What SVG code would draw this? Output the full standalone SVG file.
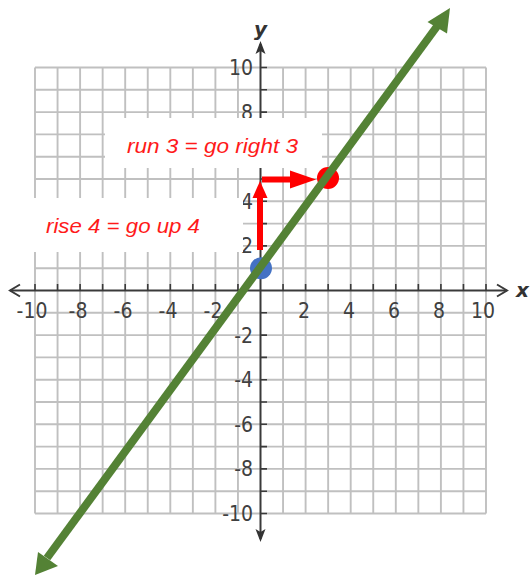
<svg xmlns="http://www.w3.org/2000/svg" width="530" height="578" viewBox="0 0 530 578">
<style>
.grid{stroke:#c0c0c0;stroke-width:1.9;fill:none}
.axis{stroke:#3a3a3a;stroke-width:2;fill:none}
.tick{stroke:#3a3a3a;stroke-width:1.6}
.num{font-family:"DejaVu Sans Condensed","DejaVu Sans",sans-serif;font-size:21px;fill:#404040}
.xn{text-anchor:middle}
.yn{text-anchor:end}
.lbl{font-family:"Liberation Sans",Arial,sans-serif;font-style:italic;font-size:20px;fill:#ff1a1a}
.ax{font-family:"DejaVu Sans","Liberation Sans",sans-serif;font-style:italic;font-weight:bold;font-size:20px;fill:#333}
</style>
<rect width="530" height="578" fill="#fff"/>
<g id="grid">
<path class="grid" d="M35 67.5V513.5M57.55 67.5V513.5M80.1 67.5V513.5M102.65 67.5V513.5M125.2 67.5V513.5M147.75 67.5V513.5M170.3 67.5V513.5M192.85 67.5V513.5M215.4 67.5V513.5M237.95 67.5V513.5M283.05 67.5V513.5M305.6 67.5V513.5M328.15 67.5V513.5M350.7 67.5V513.5M373.25 67.5V513.5M395.8 67.5V513.5M418.35 67.5V513.5M440.9 67.5V513.5M463.45 67.5V513.5M486 67.5V513.5M35 67.5H486M35 89.8H486M35 112.1H486M35 134.4H486M35 156.7H486M35 179H486M35 201.3H486M35 223.6H486M35 245.9H486M35 268.2H486M35 312.8H486M35 335.1H486M35 357.4H486M35 379.7H486M35 402H486M35 424.3H486M35 446.6H486M35 468.9H486M35 491.2H486M35 513.5H486"/>
</g>
<g id="axes">
<path class="axis" d="M10 290.5H507M260.5 44V539"/>
<path class="axis" d="M20 284.5L10 290.5L20 296.5M497 284.5L507 290.5L497 296.5"/>
<path d="M260.5 41L255.5 54L260.5 51L265.5 54Z" fill="#333"/>
<path d="M260.5 542L255.5 529L260.5 532L265.5 529Z" fill="#333"/>
<path class="tick" d="M35 284V290.5M57.55 284V290.5M80.1 284V290.5M102.65 284V290.5M125.2 284V290.5M147.75 284V290.5M170.3 284V290.5M192.85 284V290.5M215.4 284V290.5M237.95 284V290.5M283.05 284V290.5M305.6 284V290.5M328.15 284V290.5M350.7 284V290.5M373.25 284V290.5M395.8 284V290.5M418.35 284V290.5M440.9 284V290.5M463.45 284V290.5M486 284V290.5"/>
<path class="tick" d="M260.5 67.5H267M260.5 89.8H267M260.5 112.1H267M260.5 134.4H267M260.5 156.7H267M260.5 179H267M260.5 201.3H267M260.5 223.6H267M260.5 245.9H267M260.5 268.2H267M260.5 312.8H267M260.5 335.1H267M260.5 357.4H267M260.5 379.7H267M260.5 402H267M260.5 424.3H267M260.5 446.6H267M260.5 468.9H267M260.5 491.2H267M260.5 513.5H267"/>
<text class="ax" x="254" y="36">y</text>
<text class="ax" x="516" y="297" font-weight="normal">x</text>
</g>
<g id="xlabels" class="num xn">
<text x="32" y="318">-10</text>
<text x="78" y="318">-8</text>
<text x="123" y="318">-6</text>
<text x="168" y="318">-4</text>
<text x="213" y="318">-2</text>
<text x="304" y="318">2</text>
<text x="349" y="318">4</text>
<text x="394" y="318">6</text>
<text x="439" y="318">8</text>
<text x="483" y="318">10</text>
</g>
<g id="ylabels" class="num yn">
<text x="253" y="75">10</text>
<text x="253" y="119.5">8</text>
<text x="253" y="208.5">4</text>
<text x="253" y="253">2</text>
<text x="253" y="342.5">-2</text>
<text x="253" y="387">-4</text>
<text x="253" y="431.5">-6</text>
<text x="253" y="476">-8</text>
<text x="253" y="521">-10</text>
</g>
<g id="run-label">
<rect x="105" y="118" width="217" height="50" fill="#fff"/>
<text class="lbl" x="127" y="153" textLength="171" lengthAdjust="spacingAndGlyphs">run 3 = go right 3</text>
</g>
<g id="rise-label">
<rect x="25" y="198" width="218" height="54" fill="#fff"/>
<text class="lbl" x="46" y="233" textLength="154" lengthAdjust="spacingAndGlyphs">rise 4 = go up 4</text>
</g>
<g id="connectors">
<path d="M260 250V196" stroke="#ff0000" stroke-width="6"/>
<path d="M260 181L252.5 198H267.5Z" fill="#ff0000"/>
<path d="M262 179.5H292" stroke="#ff0000" stroke-width="6"/>
<path d="M316 179.5L290 170.5V188.5Z" fill="#ff0000"/>
</g>
<g id="point-b">
<circle cx="261" cy="268.2" r="11" fill="#4472c4"/>
</g>
<g id="point-r">
<circle cx="328" cy="178" r="11" fill="#ff0000"/>
</g>
<g id="line">
<path d="M47 558L438 25" stroke="#548235" stroke-width="8"/>
<path d="M450 8L427.5 22L447 33.5Z" fill="#548235"/>
<path d="M35 575L38 552L58 566Z" fill="#548235"/>
</g>
</svg>
